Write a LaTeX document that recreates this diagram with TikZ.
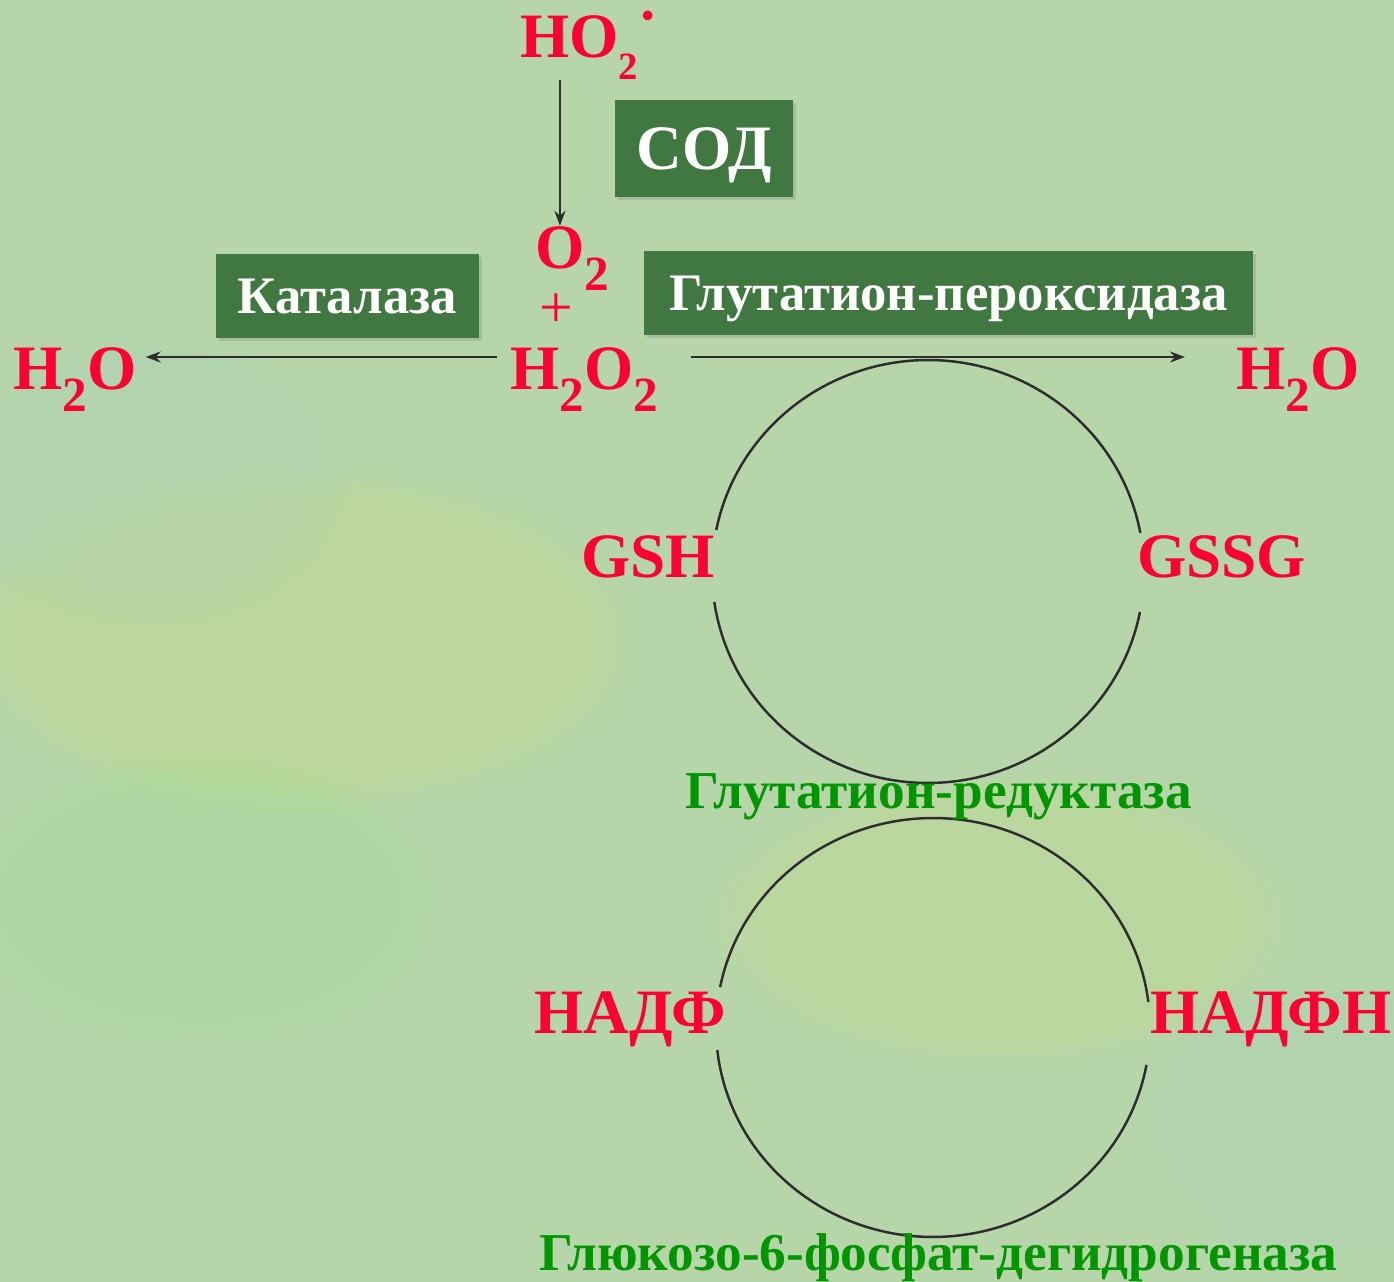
\documentclass[tikz,border=0pt]{standalone}
\usepackage{fontspec}
\setmainfont{Liberation Serif}
\usetikzlibrary{arrows.meta,shadows,fadings}

\definecolor{chemred}{RGB}{255,0,51}
\definecolor{enzgreen}{RGB}{65,119,64}
\definecolor{labgreen}{RGB}{0,150,0}
\definecolor{bggreen}{RGB}{182,214,170}
\definecolor{linegray}{RGB}{45,45,45}

% lowered index digit
\newcommand\low[2][28]{\raisebox{-13pt}{\fontsize{#1}{#1}\selectfont #2}}

\tikzset{
  chem/.style={text=chemred, font=\fontsize{36}{40}\selectfont\bfseries, inner sep=0pt, anchor=base west},
  enzbox/.style={fill=enzgreen, text=white, font=\fontsize{30}{34}\selectfont\bfseries, inner sep=0pt, text depth=0pt,
    drop shadow={opacity=0.3, shadow xshift=0.06cm, shadow yshift=-0.06cm}},
  enzlabel/.style={text=labgreen, font=\fontsize{30.3}{33}\selectfont\bfseries, inner sep=0pt, anchor=base west},
  arr/.style={linegray, line width=1.6pt, -{Stealth[length=0.3cm, width=0.22cm]}},
  loopline/.style={linegray, line width=1.4pt},
  patch/.style={path fading=circle with fuzzy edge 20 percent, fill opacity=0.15}
}

\begin{document}
\begin{tikzpicture}[x=0.02cm, y=0.02cm]
\useasboundingbox (0,0) rectangle (1394,-1282);
%% background
\fill[bggreen] (0,0) rectangle (1394,-1282);
\fill[yellow!55!bggreen, patch] (300,-640) ellipse (7cm and 3.5cm);
\fill[yellow!45!bggreen, patch] (1000,-920) ellipse (6cm and 3cm);
\fill[cyan!25!bggreen, patch] (150,-480) ellipse (4cm and 3cm);
\fill[cyan!25!bggreen, patch] (1330,-1120) ellipse (4cm and 3cm);
\fill[green!30!bggreen, patch] (200,-900) ellipse (5cm and 3cm);

%% glutathione and NADP cycles
\coordinate (gc) at (928,-571.5);
\draw[loopline] ([shift={(10.5:4.32cm and 4.23cm)}]gc) arc[start angle=10.5, end angle=168.7, x radius=4.32cm, y radius=4.23cm];
\draw[loopline] ([shift={(188.3:4.32cm and 4.23cm)}]gc) arc[start angle=188.3, end angle=349, x radius=4.32cm, y radius=4.23cm];
\coordinate (nc) at (933,-1027.5);
\draw[loopline] ([shift={(7:4.34cm and 4.19cm)}]nc) arc[start angle=7, end angle=168.9, x radius=4.34cm, y radius=4.19cm];
\draw[loopline] ([shift={(186.2:4.34cm and 4.19cm)}]nc) arc[start angle=186.2, end angle=349.7, x radius=4.34cm, y radius=4.19cm];

%% enzymes
\node[enzbox, font=\fontsize{36}{40}\selectfont\bfseries, minimum width=3.56cm, minimum height=1.94cm] (sod) at (704,-148.5) {СОД};
\node[enzbox, minimum width=5.26cm, minimum height=1.7cm] (cat) at (347.5,-296) {Каталаза};
\node[enzbox, minimum width=12.2cm, minimum height=1.68cm] (gpx) at (948.5,-293) {Глутатион-пероксидаза};

%% substances
\node[chem] (hoo) at (520,-57) {HO\low[22]{2}\kern2pt\raisebox{17pt}{\fontsize{20}{20}\selectfont\textbullet}};
\node[chem] (o2) at (535,-268) {O\rlap{\low{2}}};
\node[chem, anchor=center, font=\fontsize{34}{36}\selectfont] (plus) at (556,-311) {+};
\node[chem] (h2o2) at (510,-389) {H\low{2}O\low{2}};
\node[chem] (lh2o) at (13,-389) {H\low{2}O};
\node[chem] (rh2o) at (1236,-389) {H\low{2}O};
\node[chem] (gsh) at (581,-577) {GSH};
\node[chem] (gssg) at (1137,-577) {GSSG};
\node[chem] (nadp) at (534,-1033) {НАДФ};
\node[chem] (nadph) at (1150,-1033) {НАДФН};
\node[enzlabel] (gr) at (685,-808) {Глутатион-редуктаза};
\node[enzlabel] (g6pd) at (539,-1270) {Глюкозо-6-фосфат-дегидрогеназа};

%% reactions
\draw[arr] (hoo.south -| o2.north) -- (o2.north);
\draw[arr] ([shift={(-0.26cm,0.64cm)}]h2o2.base west) -- ([shift={(0.18cm,0.64cm)}]lh2o.base east);
\draw[arr] ([shift={(0.66cm,0.64cm)}]h2o2.base east) -- ([shift={(-1.02cm,0.64cm)}]rh2o.base west);

\end{tikzpicture}
\end{document}
